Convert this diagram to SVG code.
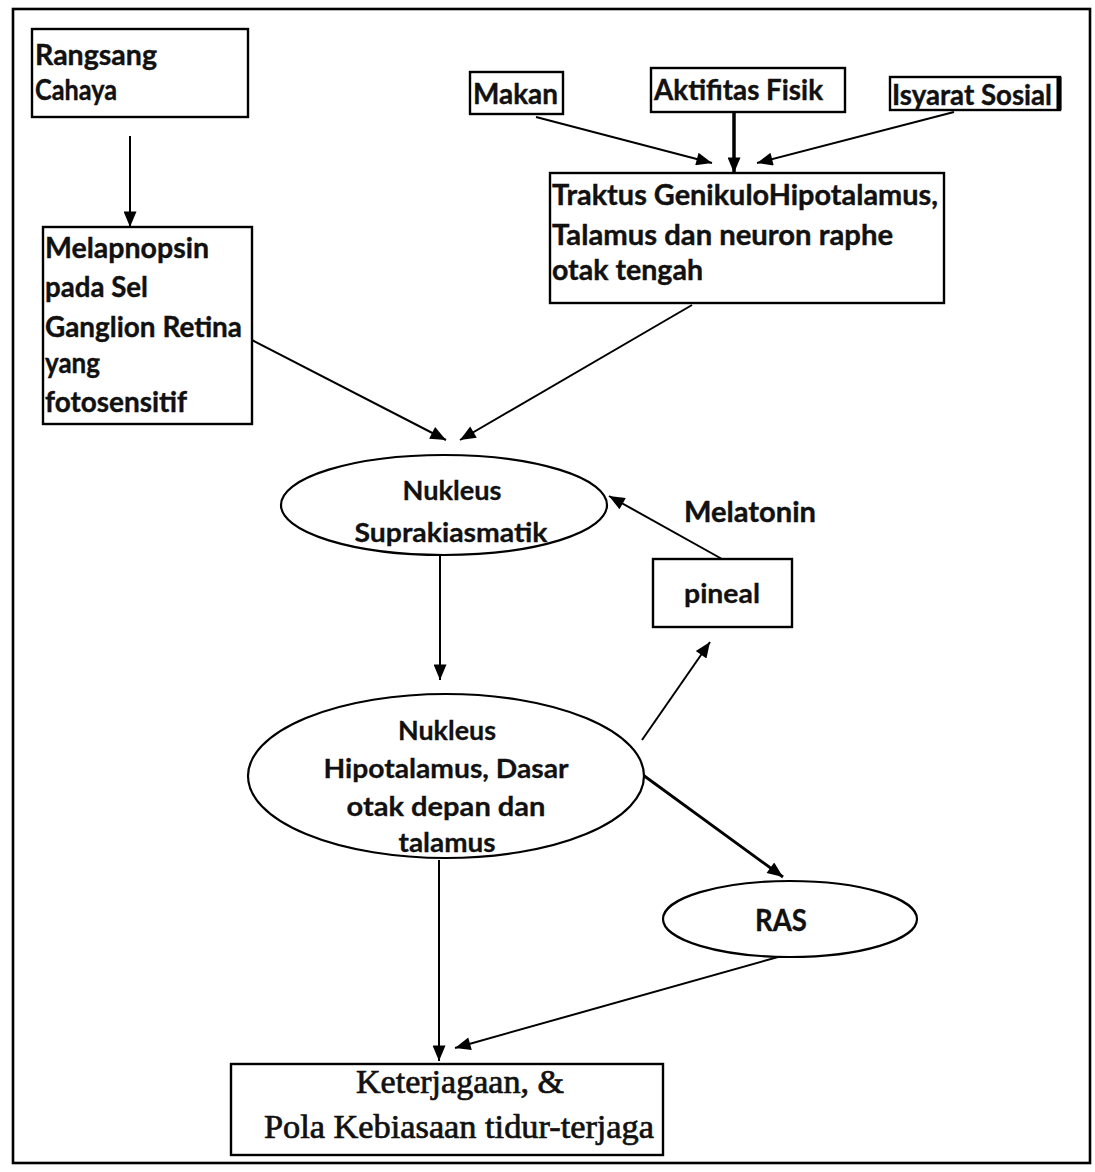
<svg xmlns="http://www.w3.org/2000/svg" width="1095" height="1172" viewBox="0 0 1095 1172">
<style>
.box{fill:#fff;stroke:#000;stroke-width:2.4}
.el{fill:#fff;stroke:#000;stroke-width:2.2}
.t{font-family:Lato,"Liberation Sans",sans-serif;font-weight:bold;font-size:29px;fill:#111;stroke:#111;stroke-width:0.4}
.tc{font-family:Lato,"Liberation Sans",sans-serif;font-weight:bold;font-size:27px;fill:#111;text-anchor:middle;stroke:#111;stroke-width:0.3}
.ts{font-family:"Liberation Serif","Times New Roman",serif;font-size:33px;fill:#111;stroke:#111;stroke-width:0.7}
.c{fill:none;stroke:#000;stroke-width:2;marker-end:url(#ah)}
</style>
<defs>
<marker id="ah" viewBox="0 0 12 10" refX="12" refY="5" markerWidth="17" markerHeight="13" markerUnits="userSpaceOnUse" orient="auto"><path d="M0,0 L12,5 L0,10 z" fill="#000"/></marker>
</defs>
<rect width="1095" height="1172" fill="#fff"/>
<rect x="13" y="9" width="1077" height="1154" fill="none" stroke="#000" stroke-width="2.6"/>

<g id="connectors">
<line class="c" x1="130" y1="136" x2="130" y2="227"/>
<line class="c" x1="536" y1="117" x2="712" y2="163"/>
<line class="c" x1="734" y1="112" x2="734" y2="173" style="stroke-width:3.5"/>
<line class="c" x1="954" y1="112" x2="757" y2="163"/>
<line class="c" x1="252" y1="340" x2="446" y2="440"/>
<line class="c" x1="692" y1="305" x2="460" y2="440"/>
<line class="c" x1="440" y1="556" x2="440" y2="680"/>
<line class="c" x1="642" y1="740" x2="710" y2="642"/>
<line class="c" x1="722" y1="559" x2="609" y2="496"/>
<line class="c" x1="643" y1="775" x2="783" y2="877" style="stroke-width:2.8"/>
<line class="c" x1="439" y1="860" x2="439" y2="1061"/>
<line class="c" x1="778" y1="957" x2="455" y2="1048"/>
</g>

<g id="rangsang">
<rect class="box" x="32" y="29" width="216" height="88"/>
<text class="t" x="35" y="65" textLength="122" lengthAdjust="spacingAndGlyphs">Rangsang</text>
<text class="t" x="35" y="100" textLength="82" lengthAdjust="spacingAndGlyphs">Cahaya</text>
</g>

<g id="melapnopsin">
<rect class="box" x="43" y="227" width="209" height="197"/>
<text class="t" x="45" y="258" textLength="164" lengthAdjust="spacingAndGlyphs">Melapnopsin</text>
<text class="t" x="45" y="297" textLength="103" lengthAdjust="spacingAndGlyphs">pada Sel</text>
<text class="t" x="45" y="337" textLength="197" lengthAdjust="spacingAndGlyphs">Ganglion Retina</text>
<text class="t" x="45" y="373" textLength="55" lengthAdjust="spacingAndGlyphs">yang</text>
<text class="t" x="45" y="412" textLength="142" lengthAdjust="spacingAndGlyphs">fotosensitif</text>
</g>

<g id="makan">
<rect class="box" x="470" y="72" width="93" height="42"/>
<text class="t" x="473" y="104" textLength="85" lengthAdjust="spacingAndGlyphs">Makan</text>
</g>

<g id="aktifitas">
<rect class="box" x="651" y="68" width="194" height="44"/>
<text class="t" x="654" y="100" textLength="169" lengthAdjust="spacingAndGlyphs">Aktifitas Fisik</text>
</g>

<g id="isyarat">
<rect class="box" x="890" y="77" width="170" height="33"/>
<line x1="1059" y1="77" x2="1059" y2="110" stroke="#000" stroke-width="5"/>
<text class="t" x="892" y="105" textLength="160" lengthAdjust="spacingAndGlyphs">Isyarat Sosial</text>
</g>

<g id="traktus">
<rect class="box" x="550" y="173" width="394" height="130"/>
<text class="t" x="552" y="205" textLength="386" lengthAdjust="spacingAndGlyphs">Traktus GenikuloHipotalamus,</text>
<text class="t" x="552" y="245" textLength="341" lengthAdjust="spacingAndGlyphs">Talamus dan neuron raphe</text>
<text class="t" x="552" y="280" textLength="151" lengthAdjust="spacingAndGlyphs">otak tengah</text>
</g>

<g id="scn">
<ellipse class="el" cx="444" cy="505" rx="163" ry="50"/>
<text class="tc" x="452" y="500" textLength="99" lengthAdjust="spacingAndGlyphs">Nukleus</text>
<text class="tc" x="451" y="542" textLength="193" lengthAdjust="spacingAndGlyphs">Suprakiasmatik</text>
</g>

<g id="pineal">
<rect class="box" x="653" y="559" width="139" height="68"/>
<text class="tc" x="722" y="603" textLength="76" lengthAdjust="spacingAndGlyphs">pineal</text>
</g>

<g id="melatonin-label">
<text class="t" x="684" y="522" textLength="132" lengthAdjust="spacingAndGlyphs">Melatonin</text>
</g>

<g id="hipotalamus">
<ellipse class="el" cx="446" cy="776" rx="198" ry="82"/>
<text class="tc" x="447" y="740" textLength="98" lengthAdjust="spacingAndGlyphs">Nukleus</text>
<text class="tc" x="446" y="778" textLength="245" lengthAdjust="spacingAndGlyphs">Hipotalamus, Dasar</text>
<text class="tc" x="446" y="816" textLength="199" lengthAdjust="spacingAndGlyphs">otak depan dan</text>
<text class="tc" x="447" y="852" textLength="97" lengthAdjust="spacingAndGlyphs">talamus</text>
</g>

<g id="ras">
<ellipse class="el" cx="790" cy="919" rx="127" ry="38"/>
<text class="tc" x="781" y="931" textLength="52" lengthAdjust="spacingAndGlyphs" style="font-size:30px">RAS</text>
</g>

<g id="keterjagaan">
<rect class="box" x="231" y="1064" width="432" height="91"/>
<text class="ts" x="356" y="1093" textLength="208" lengthAdjust="spacingAndGlyphs">Keterjagaan, &amp;</text>
<text class="ts" x="264" y="1138" textLength="390" lengthAdjust="spacingAndGlyphs">Pola Kebiasaan tidur-terjaga</text>
</g>
</svg>
